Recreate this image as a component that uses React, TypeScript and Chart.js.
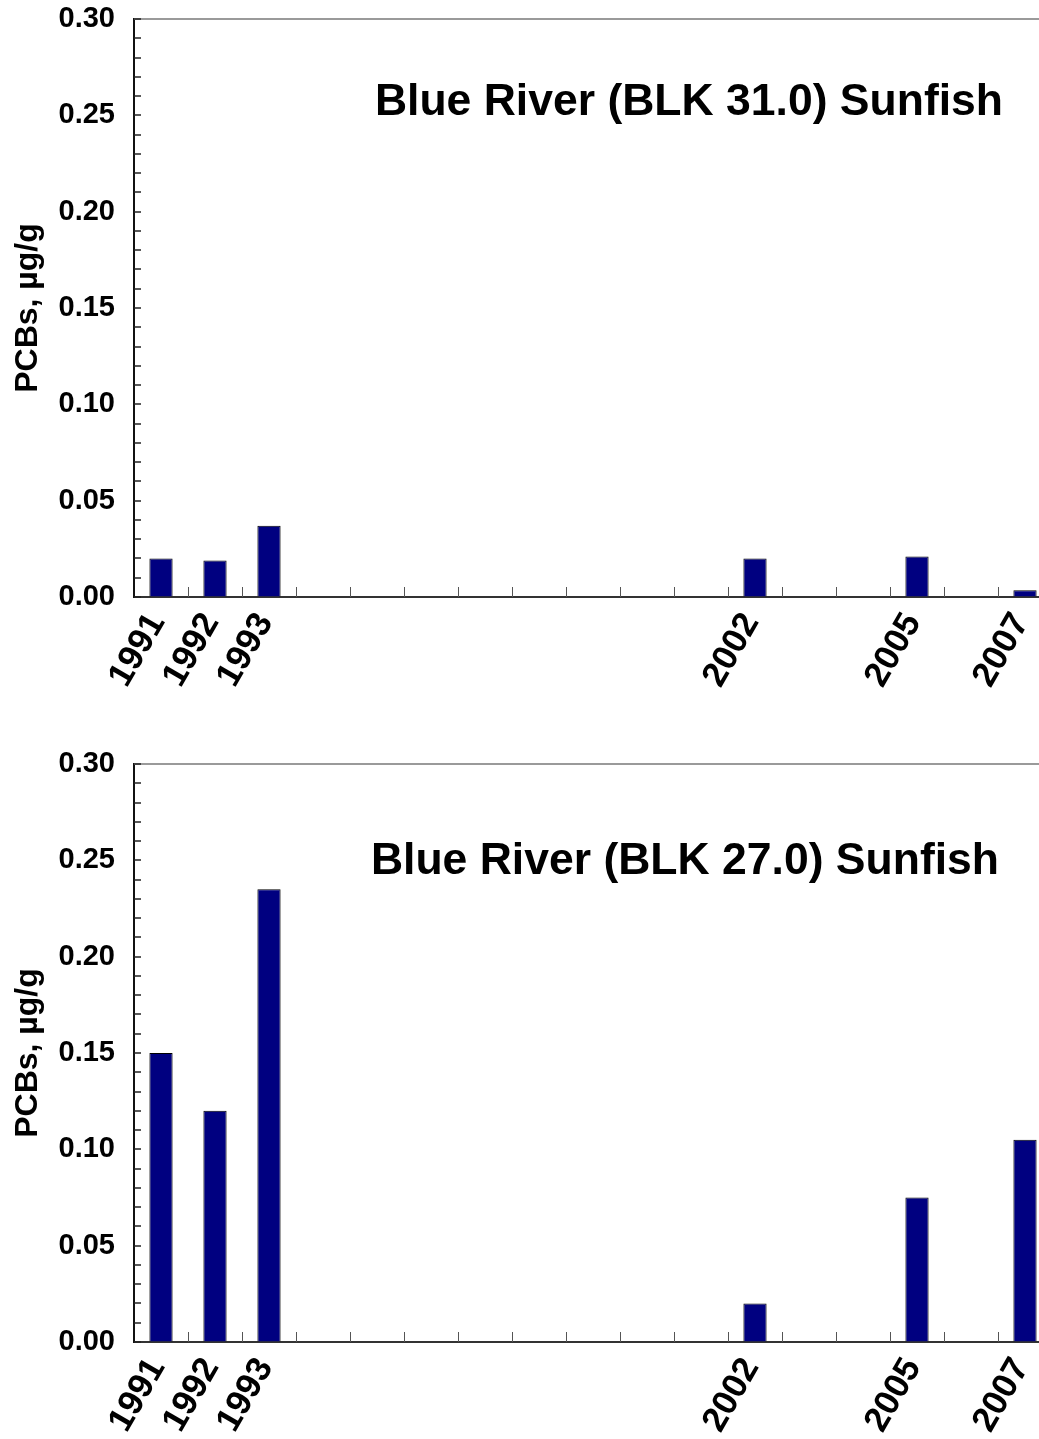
import React, { useEffect, useRef } from 'react';
import { Chart, registerables } from 'chart.js';

Chart.register(...registerables);

// ---- data ----
const years = ['1991', '1992', '1993', '1994', '1995', '1996', '1997', '1998', '1999', '2000', '2001', '2002', '2003', '2004', '2005', '2006', '2007'];
const sampledYears = ['1991', '1992', '1993', '2002', '2005', '2007'];
const upperValues = [0.020, 0.019, 0.037, 0.020, 0.021, 0.0035];
const lowerValues = [0.150, 0.120, 0.235, 0.020, 0.075, 0.105];
const yTickLabels = ['0.00', '0.05', '0.10', '0.15', '0.20', '0.25', '0.30'];
const upperTitle = 'Blue River (BLK 31.0) Sunfish';
const lowerTitle = 'Blue River (BLK 27.0) Sunfish';
const yAxisTitle = 'PCBs, µg/g';

const FONT = "'Liberation Sans', Arial, Helvetica, sans-serif";
const TICK_SIZE = 29;

function fullSeries(values: number[]): (number | null)[] {
  return years.map((y) => {
    const i = sampledYears.indexOf(y);
    return i >= 0 ? values[i] : null;
  });
}

const decorPlugin = {
  id: 'decor',
  afterDraw(chart: any, _args: any, opts: any) {
    const { ctx, chartArea } = chart;
    const xs = chart.scales.x;
    const ys = chart.scales.y;
    ctx.save();
    // top frame line
    ctx.strokeStyle = '#9a9a9a';
    ctx.lineWidth = 2;
    ctx.beginPath();
    ctx.moveTo(chartArea.left, chartArea.top);
    ctx.lineTo(chartArea.right, chartArea.top);
    ctx.stroke();
    // inner x tick marks at category boundaries
    ctx.strokeStyle = '#555555';
    ctx.lineWidth = 1;
    for (let i = 1; i < xs.ticks.length; i++) {
      const px = Math.round((xs.getPixelForTick(i - 1) + xs.getPixelForTick(i)) / 2) + 0.5;
      ctx.beginPath();
      ctx.moveTo(px, chartArea.bottom);
      ctx.lineTo(px, chartArea.bottom - 10);
      ctx.stroke();
    }
    // inner y tick marks
    ctx.strokeStyle = '#222222';
    ctx.lineWidth = 1.5;
    ys.ticks.forEach((t: any) => {
      const py = Math.round(ys.getPixelForValue(t.value));
      ctx.beginPath();
      ctx.moveTo(chartArea.left, py);
      ctx.lineTo(chartArea.left + 7, py);
      ctx.stroke();
    });
    // inner title
    if (opts && opts.text) {
      ctx.fillStyle = '#000';
      ctx.font = `bold ${opts.size}px ${FONT}`;
      ctx.textAlign = 'right';
      ctx.textBaseline = 'middle';
      ctx.fillText(opts.text, chartArea.right - opts.dx, chartArea.top + opts.dy);
    }
    ctx.restore();
  },
};

type PanelProps = {
  values: number[];
  title: string;
  top: number;
  height: number;
  axisHeight: number;
  titleDx: number;
  titleDy: number;
};

function Panel({ values, title, top, height, axisHeight, titleDx, titleDy }: PanelProps) {
  const ref = useRef<HTMLCanvasElement | null>(null);
  useEffect(() => {
    if (!ref.current) return;
    const chart = new Chart(ref.current, {
      type: 'bar',
      data: {
        labels: years,
        datasets: [
          {
            data: fullSeries(values),
            backgroundColor: '#000080',
            borderColor: '#000000',
            borderWidth: 1,
            barPercentage: 0.43,
            categoryPercentage: 1,
          },
        ],
      },
      plugins: [decorPlugin],
      options: {
        responsive: false,
        animation: false,
        layout: { padding: { top: 19, right: 8, left: 0, bottom: 0 } },
        plugins: {
          legend: { display: false },
          tooltip: { enabled: false },
          decor: { text: title, size: 44.5, dx: titleDx, dy: titleDy },
        } as any,
        scales: {
          x: {
            type: 'category',
            offset: true,
            grid: { display: true, drawOnChartArea: false, drawTicks: false },
            border: { display: true, color: '#333333', width: 2 },
            ticks: {
              autoSkip: false,
              maxRotation: 60,
              minRotation: 60,
              padding: 9,
              labelOffset: -4,
              color: '#000',
              font: { family: FONT, size: 35, weight: 'bold' },
              callback: (_v: any, i: number) => (sampledYears.includes(years[i]) ? years[i] : ''),
            },
            afterFit: (s: any) => {
              s.height = axisHeight;
              s.paddingLeft = 0;
              s.paddingRight = 0;
            },
          },
          y: {
            min: 0,
            max: 0.3,
            grid: { display: true, drawOnChartArea: false, drawTicks: false },
            border: { display: true, color: '#111111', width: 2 },
            ticks: {
              stepSize: 0.01,
              autoSkip: false,
              padding: 19,
              color: '#000',
              font: { family: FONT, size: TICK_SIZE, weight: 'bold' },
              callback: (_v: any, i: number) => (i % 5 === 0 ? yTickLabels[i / 5] : ''),
            },
            title: {
              display: true,
              text: yAxisTitle,
              color: '#000',
              font: { family: FONT, size: 32, weight: 'bold', lineHeight: 1.2 },
              padding: { top: 9, bottom: 0 },
            },
            afterFit: (s: any) => {
              s.width = 134;
              s.paddingTop = 0;
              s.paddingBottom = 0;
            },
          },
        },
      } as any,
    });
    return () => chart.destroy();
  }, [values, title, axisHeight, titleDx, titleDy]);
  return (
    <canvas
      ref={ref}
      width={1060}
      height={height}
      style={{ position: 'absolute', left: 0, top, display: 'block' }}
    />
  );
}

export default function App() {
  return (
    <div
      style={{
        position: 'absolute',
        left: 0,
        top: 0,
        width: 1039,
        height: 1439,
        overflow: 'hidden',
        background: '#fff',
      }}
    >
      <Panel values={upperValues} title={upperTitle} top={0} height={740} axisHeight={143} titleDx={49} titleDy={84} />
      <Panel values={lowerValues} title={lowerTitle} top={745} height={694} axisHeight={97} titleDx={53} titleDy={98} />
    </div>
  );
}
